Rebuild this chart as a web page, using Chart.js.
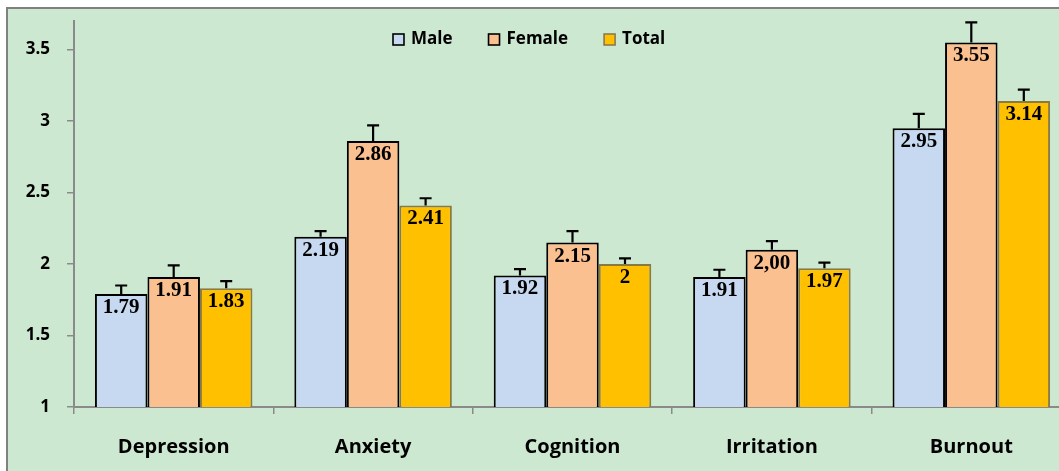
<!DOCTYPE html>
<html><head><meta charset="utf-8">
<script src="https://cdn.jsdelivr.net/npm/chart.js@4.4.1/dist/chart.umd.min.js"></script>
<style>
html,body{margin:0;padding:0;background:#fff;overflow:hidden;width:1059px;height:471px;}
#frame{position:absolute;left:6px;top:7px;width:1100px;height:500px;border:2px solid #808080;background:rgb(205,232,208);overflow:hidden;}
canvas{position:absolute;left:0;top:0;}
</style></head><body>
<div id="frame"><canvas id="c" width="1063" height="470"></canvas></div>
<script>
const categories = ['Depression', 'Anxiety', 'Cognition', 'Irritation', 'Burnout'];
const seriesNames = ['Male', 'Female', 'Total'];
const maleValues = [1.79, 2.19, 1.92, 1.91, 2.95];
const femaleValues = [1.91, 2.86, 2.15, 2.10, 3.55];
const totalValues = [1.83, 2.41, 2.00, 1.97, 3.14];
const maleErrors = [0.06, 0.04, 0.045, 0.05, 0.10];
const femaleErrors = [0.08, 0.11, 0.08, 0.06, 0.14];
const totalErrors = [0.05, 0.05, 0.04, 0.04, 0.08];
const maleLabels = ['1.79', '2.19', '1.92', '1.91', '2.95'];
const femaleLabels = ['1.91', '2.86', '2.15', '2,00', '3.55'];
const totalLabels = ['1.83', '2.41', '2', '1.97', '3.14'];
const yTicks = [1, 1.5, 2, 2.5, 3, 3.5];
const yTickLabels = ['1', '1.5', '2', '2.5', '3', '3.5'];

const errorSets = [maleErrors, femaleErrors, totalErrors];
const labelSets = [maleLabels, femaleLabels, totalLabels];

const errorBarPlugin = {
  id: 'errorBars',
  afterDatasetsDraw(chart) {
    const ctx = chart.ctx, y = chart.scales.y;
    chart.data.datasets.forEach((ds, di) => {
      const meta = chart.getDatasetMeta(di);
      meta.data.forEach((bar, i) => {
        const top = y.getPixelForValue(ds.data[i]);
        const cap = y.getPixelForValue(ds.data[i] + errorSets[di][i]);
        ctx.save();
        ctx.strokeStyle = '#000';
        ctx.lineWidth = 2.2;
        ctx.beginPath();
        ctx.moveTo(bar.x, top);
        ctx.lineTo(bar.x, cap);
        ctx.moveTo(bar.x - 6, cap);
        ctx.lineTo(bar.x + 6, cap);
        ctx.stroke();
        ctx.restore();
      });
    });
    chart.data.datasets.forEach((ds, di) => {
      const meta = chart.getDatasetMeta(di);
      meta.data.forEach((bar, i) => {
        const top = y.getPixelForValue(ds.data[i]);
        ctx.save();
        ctx.fillStyle = '#000';
        ctx.font = 'bold 21px "Liberation Serif", "Times New Roman", serif';
        ctx.textAlign = 'center';
        ctx.textBaseline = 'alphabetic';
        ctx.fillText(labelSets[di][i], bar.x, top + 19);
        ctx.restore();
      });
    });
  }
};

const legendPlugin = {
  id: 'customLegend',
  afterDraw(chart) {
    const ctx = chart.ctx;
    ctx.save();
    ctx.font = 'bold 17px "Open Sans", sans-serif';
    ctx.textBaseline = 'middle';
    let x = 385;
    const yc = 30.5;
    chart.data.datasets.forEach((ds) => {
      ctx.fillStyle = ds.backgroundColor;
      ctx.fillRect(x, yc - 5.5, 11, 11);
      ctx.strokeStyle = ds.legendBorder;
      ctx.lineWidth = 1.6;
      ctx.strokeRect(x, yc - 5.5, 11, 11);
      ctx.fillStyle = '#000';
      ctx.textAlign = 'left';
      ctx.fillText(ds.label, x + 18, yc);
      x += 18 + ctx.measureText(ds.label).width + 36;
    });
    ctx.restore();
  }
};

new Chart(document.getElementById('c'), {
  type: 'bar',
  data: {
    labels: categories,
    datasets: [
      { label: seriesNames[0], data: maleValues, backgroundColor: '#c6d9f1', borderColor: '#000', borderWidth: 2, legendBorder: '#000' },
      { label: seriesNames[1], data: femaleValues, backgroundColor: '#fac090', borderColor: '#000', borderWidth: 2, legendBorder: '#000' },
      { label: seriesNames[2], data: totalValues, backgroundColor: '#ffc000', borderColor: '#8a7a40', borderWidth: 2, legendBorder: '#8a7a50' }
    ]
  },
  options: {
    responsive: false,
    animation: false,
    events: [],
    layout: { autoPadding: false, padding: { top: 12, left: 0, right: 0, bottom: 0 } },
    datasets: { bar: { categoryPercentage: 0.79, barPercentage: 1.0 } },
    plugins: { legend: { display: false }, tooltip: { enabled: false } },
    scales: {
      x: {
        offset: true,
        afterFit(s) { s.height = 72; s.paddingLeft = 0; s.paddingRight = 0; },
        grid: { offset: true, drawOnChartArea: false, drawTicks: true, tickLength: 7, color: '#8a8a8a', lineWidth: 1.5 },
        border: { display: true, color: '#8a8a8a', width: 2 },
        ticks: { color: '#000', font: { family: 'Open Sans', weight: 'bold', size: 20 }, padding: 21, maxRotation: 0, autoSkip: false }
      },
      y: {
        min: 1, max: 3.7,
        afterFit(s) { s.width = 66; s.paddingTop = 0; s.paddingBottom = 0; },
        afterBuildTicks(s) { s.ticks = yTicks.map(v => ({ value: v })); },
        grid: { drawOnChartArea: false, drawTicks: true, tickLength: 7, color: '#8a8a8a', lineWidth: 1.5 },
        border: { display: true, color: '#8a8a8a', width: 2 },
        ticks: { color: '#000', font: { family: 'Open Sans', weight: 'bold', size: 17 }, padding: 17, callback: (v, i) => yTickLabels[i] }
      }
    }
  },
  plugins: [errorBarPlugin, legendPlugin]
});
</script></body></html>
